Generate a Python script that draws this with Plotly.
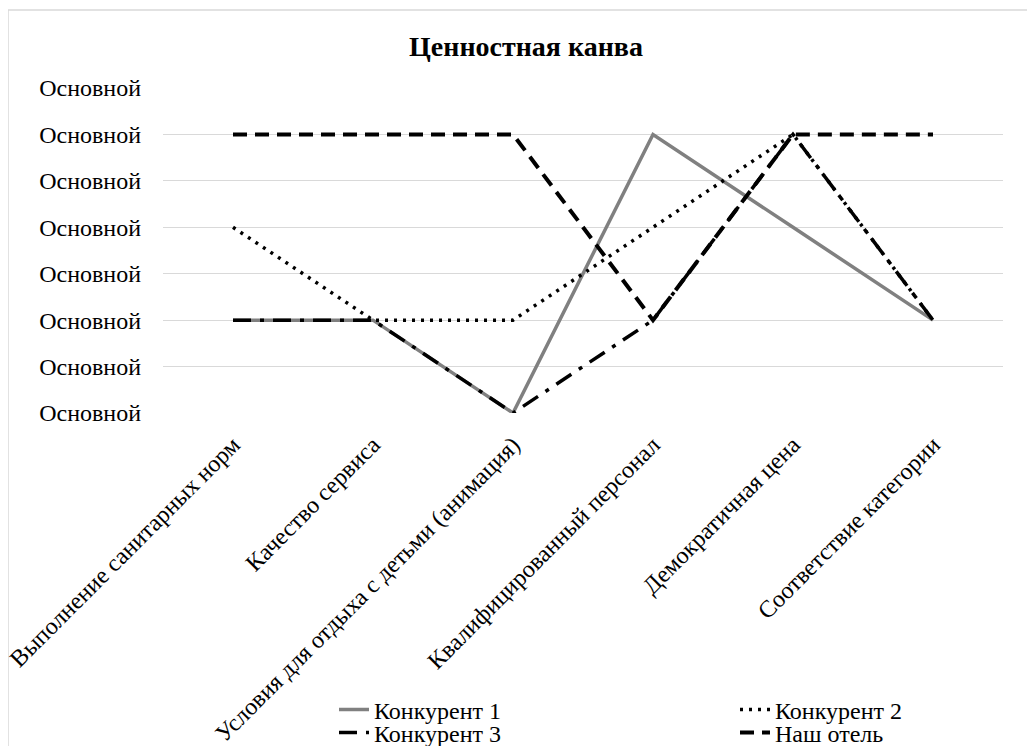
import plotly.graph_objects as go

categories = [
    "Выполнение санитарных норм",
    "Качество сервиса",
    "Условия для отдыха с детьми (анимация)",
    "Квалифицированный персонал",
    "Демократичная цена",
    "Соответствие категории",
]
konk1 = [2, 2, 0, 6, 4, 2]
konk2 = [4, 2, 2, 4, 6, 2]
konk3 = [2, 2, 0, 2, 6, 2]
hotel = [6, 6, 6, 2, 6, 6]
y_tick_vals = [0, 1, 2, 3, 4, 5, 6, 7]
y_tick_text = ["Основной"] * 8

FONT = "Liberation Serif, Times New Roman, serif"
OFF = 8  # default body margin of the html page
W, H = 1035 - 2 * OFF, 754 - 2 * OFF
# plot area in screen pixels: x 163..1003, y 88..413
ML, MT = 163 - OFF, 88 - OFF
MR = W - (1003 - OFF)
MB = H - (413 - OFF)
pw = W - ML - MR
ph = H - MT - MB


def px_x(sx):
    return (sx - OFF - ML) / pw


def px_y(sy):
    return (H - MB - (sy - OFF)) / ph


fig = go.Figure()
fig.add_trace(go.Scatter(x=categories, y=konk1, name="Конкурент 1", mode="lines",
                         line=dict(color="#808080", width=3.5), legend="legend", showlegend=True))
fig.add_trace(go.Scatter(x=categories, y=konk2, name="Конкурент 2", mode="lines",
                         line=dict(color="black", width=3.5, dash="3px,6px"), legend="legend2", showlegend=True))
fig.add_trace(go.Scatter(x=categories, y=konk3, name="Конкурент 3", mode="lines",
                         line=dict(color="black", width=3.5, dash="18px,9px,4px,9px"), legend="legend3", showlegend=True))
fig.add_trace(go.Scatter(x=categories, y=hotel, name="Наш отель", mode="lines",
                         line=dict(color="black", width=4, dash="14px,8px"), legend="legend4", showlegend=True))

legend_common = dict(orientation="h", xanchor="left", yanchor="middle",
                     font=dict(family=FONT, size=24, color="black"),
                     bgcolor="rgba(0,0,0,0)", itemwidth=30, visible=True)

fig.update_layout(
    width=W, height=H,
    showlegend=True,
    margin=dict(l=ML, r=MR, t=MT, b=MB, autoexpand=False),
    paper_bgcolor="white", plot_bgcolor="white",
    title=dict(text="<b>Ценностная канва</b>", x=(526 - OFF) / W, xref="container", xanchor="center",
               y=1 - (46 - OFF) / H, yref="container", yanchor="middle",
               font=dict(family=FONT, size=28, color="black")),
    xaxis=dict(type="category", range=[-0.5, 5.5], tickangle=-45, showgrid=False,
               zeroline=False, showline=False, ticks="", automargin=False,
               ticklabelstandoff=12,
               tickfont=dict(family=FONT, size=24, color="black")),
    yaxis=dict(range=[0, 7], tickvals=y_tick_vals, ticktext=y_tick_text,
               showgrid=True, gridcolor="#d9d9d9", gridwidth=1.3, zeroline=False,
               showline=False, ticks="", ticklabelstandoff=21, automargin=False,
               tickfont=dict(family=FONT, size=24, color="black")),
    legend=dict(x=px_x(334), y=px_y(710), **legend_common),
    legend2=dict(x=px_x(735), y=px_y(710), **legend_common),
    legend3=dict(x=px_x(334), y=px_y(733), **legend_common),
    legend4=dict(x=px_x(735), y=px_y(733), **legend_common),
    shapes=[dict(type="rect", xref="paper", yref="paper",
                 x0=px_x(8), x1=px_x(1080), y0=px_y(800), y1=px_y(10),
                 line=dict(color="#d9d9d9", width=1.5), fillcolor="rgba(0,0,0,0)", layer="below")],
)

fig.write_html("out.html")
